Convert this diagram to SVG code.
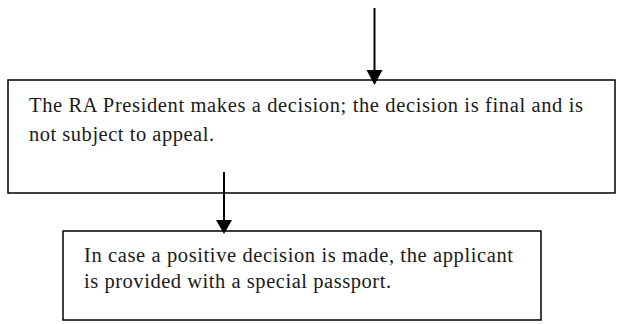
<svg xmlns="http://www.w3.org/2000/svg" width="617" height="324" viewBox="0 0 617 324">
<style>
.box{fill:#fff;stroke:#000;stroke-width:1.5}
.t{font-family:"Liberation Serif","DejaVu Serif",serif;font-size:20.5px;fill:#1a1a1a}
.ln{stroke:#000;stroke-width:2;fill:none}
.hd{fill:#000}
</style>
<rect width="617" height="324" fill="#fff"/>
<g id="node1">
<rect class="box" x="8" y="80" width="607" height="113"/>
<text class="t" x="29" y="112" textLength="554" lengthAdjust="spacing">The RA President makes a decision; the decision is final and is</text>
<text class="t" x="29" y="141" textLength="185" lengthAdjust="spacing">not subject to appeal.</text>
</g>
<g id="node2">
<rect class="box" x="63" y="231" width="478" height="89"/>
<text class="t" x="84" y="262" textLength="429" lengthAdjust="spacing">In case a positive decision is made, the applicant</text>
<text class="t" x="84" y="288" textLength="307" lengthAdjust="spacing">is provided with a special passport.</text>
</g>
<g id="connectors">
<line class="ln" x1="374.5" y1="8" x2="374.5" y2="72"/>
<polygon class="hd" points="366.5,70 382.5,70 374.5,85"/>
<line class="ln" x1="224" y1="172" x2="224" y2="222"/>
<polygon class="hd" points="216,220 232,220 224,234"/>
</g>
</svg>
